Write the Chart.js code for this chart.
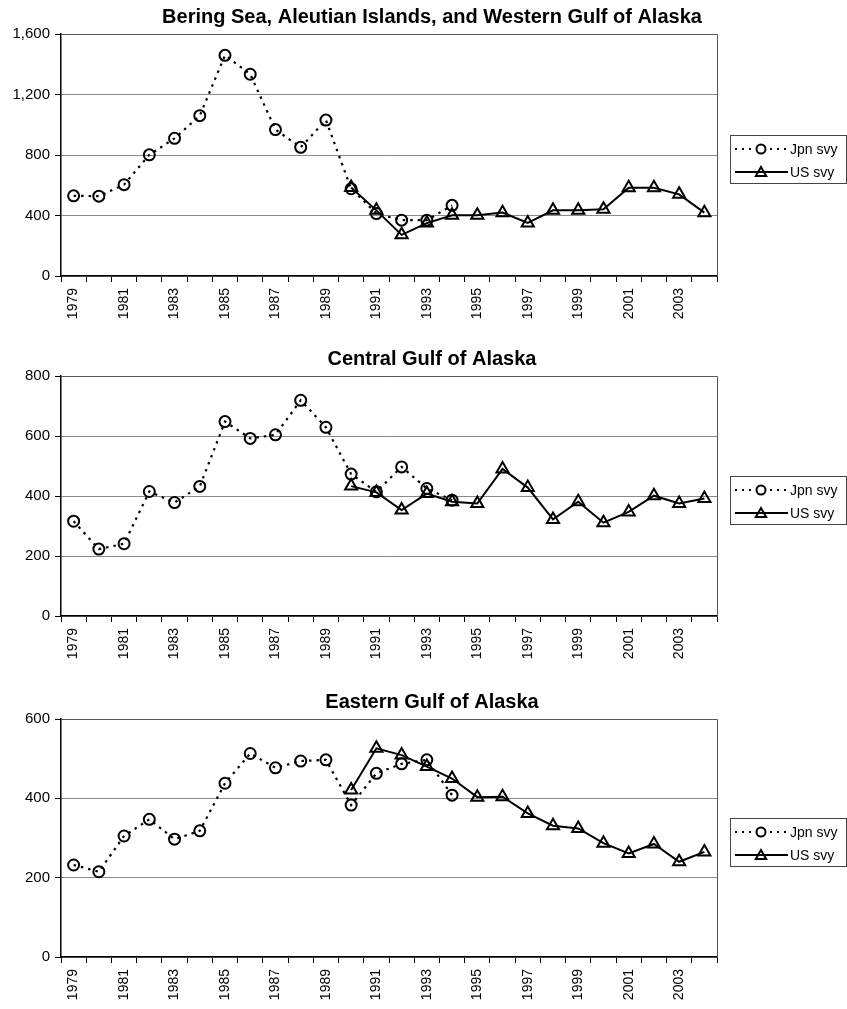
<!DOCTYPE html>
<html>
<head>
<meta charset="utf-8">
<title>Survey index by region</title>
<script src="https://cdn.jsdelivr.net/npm/chart.js@4/dist/chart.umd.min.js"></script>
<style>
  body { margin: 0; background: #fff; width: 847px; height: 1009px; position: relative; overflow: hidden; }
  .panel { position: absolute; left: 0; width: 847px; }
</style>
</head>
<body>
<div class="panel" style="top:0;height:322px"><canvas id="chart-bering"></canvas></div>
<div class="panel" style="top:330px;height:332px"><canvas id="chart-central"></canvas></div>
<div class="panel" style="top:662px;height:341px"><canvas id="chart-eastern"></canvas></div>

<script>
// years on the category axis
const years = [];
for (let y = 1979; y <= 2004; y++) years.push(String(y));

// Japanese survey: 1979-1994, US survey: 1990-2004
const beringJpn  = [530, 528, 604, 801, 910, 1060, 1459, 1334, 968, 851, 1031, 577, 413, 369, 369, 467];
const beringUs   = [585, 434, 272, 350, 401, 402, 419, 351, 434, 434, 441, 584, 584, 540, 419];
const centralJpn = [316, 223, 241, 415, 378, 432, 648, 592, 604, 719, 629, 473, 414, 497, 425, 386];
const centralUs  = [433, 412, 353, 408, 381, 375, 490, 428, 322, 381, 311, 347, 401, 375, 392];
const easternJpn = [232, 215, 305, 347, 297, 318, 438, 513, 477, 494, 497, 383, 463, 487, 497, 408];
const easternUs  = [421, 526, 509, 480, 450, 403, 404, 362, 331, 324, 287, 261, 285, 240, 265];

const FONT = 'Liberation Sans, Arial, sans-serif';
Chart.defaults.font.family = FONT;
Chart.defaults.color = '#111';

// pad the series out to the full year range
function jpnSeries(vals) {
  return years.map((_, i) => (i < vals.length ? vals[i] : null));
}
function usSeries(vals) {
  const start = years.length - vals.length;
  return years.map((_, i) => (i >= start ? vals[i - start] : null));
}

function drawTriangle(ctx, x, y, r) {
  ctx.beginPath();
  for (let k = 0; k < 3; k++) {
    const a = k * 2 * Math.PI / 3;
    const px = x + Math.sin(a) * r;
    const py = y - Math.cos(a) * r;
    if (k === 0) ctx.moveTo(px, py); else ctx.lineTo(px, py);
  }
  ctx.closePath();
  ctx.stroke();
}

// Excel-like title, plot frame and legend box
const decorPlugin = {
  id: 'decor',
  beforeDatasetsDraw(chart) {
    const { ctx, chartArea: a } = chart;
    ctx.save();
    ctx.strokeStyle = '#555';
    ctx.lineWidth = 1;
    ctx.beginPath();
    ctx.moveTo(a.left, a.top + 0.5);
    ctx.lineTo(a.right + 0.5, a.top + 0.5);
    ctx.lineTo(a.right + 0.5, a.bottom);
    ctx.stroke();
    ctx.restore();
  },
  afterDraw(chart, args, opts) {
    const { ctx, chartArea: a } = chart;
    ctx.save();

    // title
    ctx.fillStyle = '#000';
    ctx.font = 'bold 20px ' + FONT;
    ctx.textAlign = 'center';
    ctx.textBaseline = 'middle';
    ctx.fillText(opts.title, 432, a.top - 17);

    // legend
    const bx = 730, bw = 116, bh = 48;
    const by = Math.round((a.top + a.bottom) / 2 + 4 - bh / 2);
    ctx.strokeStyle = '#444';
    ctx.lineWidth = 1;
    ctx.strokeRect(bx + 0.5, by + 0.5, bw, bh);

    ctx.font = '14px ' + FONT;
    ctx.textAlign = 'left';
    const rows = [
      { label: 'Jpn svy', dash: [2, 5], y: by + 14 },
      { label: 'US svy', dash: [], y: by + 37 }
    ];
    rows.forEach((row, i) => {
      ctx.strokeStyle = '#000';
      ctx.lineWidth = 2;
      ctx.setLineDash(row.dash);
      ctx.beginPath();
      ctx.moveTo(bx + 5, row.y);
      ctx.lineTo(bx + 58, row.y);
      ctx.stroke();
      ctx.setLineDash([]);
      const mx = bx + 31;
      if (i === 0) {
        ctx.fillStyle = '#fff';
        ctx.beginPath();
        ctx.arc(mx, row.y, 4.5, 0, Math.PI * 2);
        ctx.fill();
        ctx.stroke();
      } else {
        drawTriangle(ctx, mx, row.y + 1, 6);
      }
      ctx.fillStyle = '#000';
      ctx.fillText(row.label, bx + 60, row.y + 1);
    });
    ctx.restore();
  }
};

function makeChart(id, title, jpn, us, yMax, yStep, padTop) {
  const el = document.getElementById(id);
  return new Chart(el.getContext('2d'), {
    type: 'line',
    data: {
      labels: years,
      datasets: [
        {
          label: 'Jpn svy',
          data: jpnSeries(jpn),
          borderColor: '#000',
          borderWidth: 2.2,
          borderDash: [2.5, 5],
          tension: 0,
          pointStyle: 'circle',
          pointRadius: 5.5,
          pointBorderWidth: 2,
          pointBackgroundColor: 'rgba(0,0,0,0)',
          pointBorderColor: '#000'
        },
        {
          label: 'US svy',
          data: usSeries(us),
          borderColor: '#000',
          borderWidth: 2,
          tension: 0,
          pointStyle: 'triangle',
          pointRadius: 7,
          pointBorderWidth: 2,
          pointBackgroundColor: 'rgba(0,0,0,0)',
          pointBorderColor: '#000'
        }
      ]
    },
    options: {
      responsive: true,
      maintainAspectRatio: false,
      animation: false,
      layout: { padding: { left: 0, right: 130, top: padTop, bottom: 0 } },
      plugins: {
        legend: { display: false },
        title: { display: false },
        tooltip: { enabled: false },
        decor: { title: title }
      },
      scales: {
        x: {
          offset: true,
          afterFit: s => { s.height = 46; },
          grid: { offset: true, drawOnChartArea: false, drawTicks: true, tickLength: 6, color: '#000' },
          border: { color: '#000', width: 1.5 },
          ticks: {
            autoSkip: false,
            minRotation: 90,
            maxRotation: 90,
            padding: 6,
            color: '#000',
            font: { size: 14 },
            callback: function (val, idx) { return idx % 2 === 0 ? this.getLabelForValue(val) : ''; }
          }
        },
        y: {
          min: 0,
          max: yMax,
          afterFit: s => { s.width = 61; },
          grid: { color: '#8a8a8a', lineWidth: 1, tickColor: '#000', tickLength: 6 },
          border: { color: '#000', width: 1.5 },
          ticks: {
            stepSize: yStep,
            padding: 5,
            color: '#000',
            font: { size: 15 },
            callback: v => v.toLocaleString('en-US')
          }
        }
      }
    },
    plugins: [decorPlugin]
  });
}

makeChart('chart-bering', 'Bering Sea, Aleutian Islands, and Western Gulf of Alaska', beringJpn, beringUs, 1600, 400, 34);
makeChart('chart-central', 'Central Gulf of Alaska', centralJpn, centralUs, 800, 200, 46);
makeChart('chart-eastern', 'Eastern Gulf of Alaska', easternJpn, easternUs, 600, 200, 57);
</script>
</body>
</html>
